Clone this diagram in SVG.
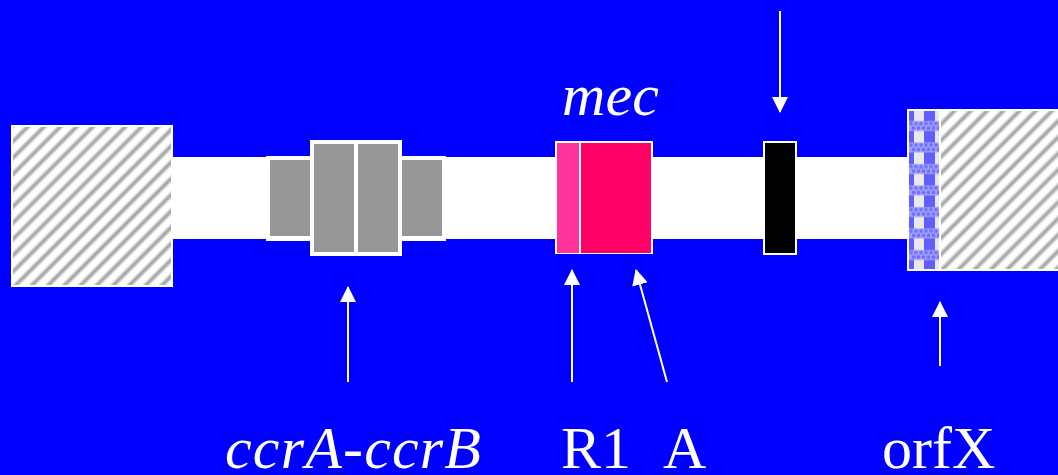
<svg xmlns="http://www.w3.org/2000/svg" width="1058" height="475" viewBox="0 0 1058 475">
  <style>
    .lbl { font-family: "Liberation Serif", "Times New Roman", serif; font-size: 60px; fill: #ffffff; }
    .it { font-style: italic; }
    .conn { stroke: #ffffff; stroke-width: 2; fill: none; marker-end: url(#ah); }
    .frame { fill: #ffffff; }
    .gray { fill: #969696; }
  </style>
  <defs>
    <linearGradient id="stripeGrad" x1="0" y1="0" x2="1" y2="0">
      <stop offset="0" stop-color="#ffffff"/>
      <stop offset="0.2" stop-color="#ffffff"/>
      <stop offset="0.5" stop-color="#999999"/>
      <stop offset="0.8" stop-color="#ffffff"/>
      <stop offset="1" stop-color="#ffffff"/>
    </linearGradient>
    <pattern id="hatch" patternUnits="userSpaceOnUse" width="11.5" height="20" patternTransform="rotate(45)">
      <rect x="0" y="0" width="11.5" height="20" fill="url(#stripeGrad)"/>
    </pattern>
    <pattern id="check" patternUnits="userSpaceOnUse" x="909" y="111" width="30" height="21.5">
      <rect x="0" y="0" width="30" height="21.5" fill="#e8e8ee"/>
      <rect x="0" y="0" width="5" height="21.5" fill="#5f5fff"/>
      <rect x="15" y="0" width="11" height="21.5" fill="#5f5fff"/>
      <rect x="0" y="10" width="30" height="10" fill="#a0a0ff"/>
      <g fill="#7070ff">
        <circle cx="2" cy="12.5" r="1.8"/><circle cx="7" cy="12.5" r="1.8"/><circle cx="12" cy="12.5" r="1.8"/>
        <circle cx="17" cy="12.5" r="1.8"/><circle cx="22" cy="12.5" r="1.8"/><circle cx="27" cy="12.5" r="1.8"/>
        <circle cx="4.5" cy="17" r="1.8"/><circle cx="9.5" cy="17" r="1.8"/><circle cx="14.5" cy="17" r="1.8"/>
        <circle cx="19.5" cy="17" r="1.8"/><circle cx="24.5" cy="17" r="1.8"/><circle cx="29.5" cy="17" r="1.8"/>
      </g>
    </pattern>
    <marker id="ah" markerUnits="userSpaceOnUse" markerWidth="16" markerHeight="16" viewBox="0 0 16 16" refX="15" refY="8" orient="auto">
      <path d="M0,0 L16,8 L0,16 Z" fill="#ffffff"/>
    </marker>
  </defs>

  <rect x="0" y="0" width="1058" height="475" fill="#0000ff"/>

  <g id="backbone">
    <rect x="170" y="157" width="740" height="82" fill="#ffffff"/>
  </g>

  <g id="left-block">
    <rect class="frame" x="11" y="125" width="162" height="162"/>
    <rect x="13" y="127" width="158" height="158" fill="url(#hatch)"/>
  </g>

  <g id="ccr">
    <rect class="frame" x="266" y="156" width="180" height="85"/>
    <rect class="gray" x="270" y="160" width="40" height="76"/>
    <rect class="gray" x="402" y="160" width="40" height="76"/>
    <rect class="frame" x="310" y="140" width="92" height="116"/>
    <rect class="gray" x="314" y="144" width="40" height="108"/>
    <rect class="gray" x="358" y="144" width="40" height="108"/>
  </g>

  <g id="mec">
    <rect class="frame" x="555" y="141" width="98" height="113"/>
    <rect x="557" y="143" width="22" height="110" fill="#ff3399"/>
    <rect x="581" y="143" width="70" height="110" fill="#ff0066"/>
  </g>

  <g id="black-block">
    <rect class="frame" x="763" y="141" width="34" height="114"/>
    <rect x="765" y="143" width="30" height="110" fill="#000000"/>
  </g>

  <g id="right-block">
    <rect class="frame" x="907" y="109" width="160" height="162"/>
    <rect x="909" y="111" width="30" height="158" fill="url(#check)"/>
    <rect x="941" y="111" width="120" height="158" fill="url(#hatch)"/>
  </g>

  <g id="connectors">
    <line class="conn" x1="780" y1="11" x2="780" y2="112"/>
    <line class="conn" x1="348" y1="382" x2="348" y2="287"/>
    <line class="conn" x1="572" y1="382" x2="572" y2="270"/>
    <line class="conn" x1="667" y1="382" x2="636" y2="270"/>
    <line class="conn" x1="940" y1="366" x2="940" y2="302"/>
  </g>

  <g id="labels">
    <text class="lbl it" x="562" y="115" textLength="97" lengthAdjust="spacing">mec</text>
    <text class="lbl it" x="225" y="468" textLength="256" lengthAdjust="spacing">ccrA-ccrB</text>
    <text class="lbl" x="561" y="468">R1</text>
    <text class="lbl" x="663" y="468">A</text>
    <text class="lbl" x="882" y="468">orfX</text>
  </g>
</svg>
